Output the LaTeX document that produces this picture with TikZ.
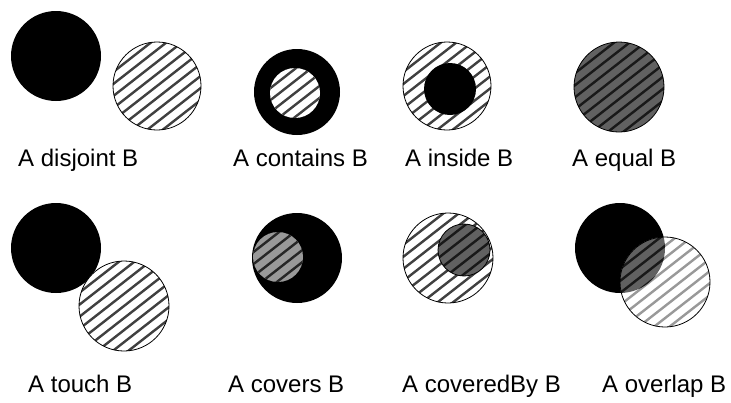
\documentclass[tikz,border=0pt]{standalone}
\usepackage{fontspec}
\setmainfont{Liberation Sans}
\usepackage{tikz}

% striped disk: centre x, centre y, radius, stripe colour
\newcommand{\hatchdisk}[4]{%
  \begin{scope}
    \clip (#1,#2) circle (#3pt);
    \foreach \k in {-57,-47.5,...,60}
      \draw[line width=2.4pt,#4,shift={(#1,#2)},rotate=38] (-60,\k) -- (60,\k);
  \end{scope}}

\begin{document}
\begin{tikzpicture}[x=1pt, y=-1pt, font=\fontsize{24}{28}\selectfont,
    rel/.style={anchor=base west, inner sep=0pt},
    solid A/.style={fill=black},
    rim/.style={draw=black, line width=0.8pt},
    dense/.style={fill=black!62},
    light/.style={fill=black!40}]
  \useasboundingbox (0,0) rectangle (731,402);
  \def\rA{45}      % radius of a full disk
  \def\rs{25}      % radius of a small disk
  % ---------------- upper row
  % disjoint
  \fill[solid A] (56,56) circle (\rA pt);
  \fill[white] (157,86) circle (44pt);
  \hatchdisk{157}{86}{44}{black!75}
  \draw[rim] (157,86) circle (44pt);
  % contains
  \fill[solid A] (297,92) circle (43pt);
  \fill[white] (295,93) circle (\rs pt);
  \hatchdisk{295}{93}{\rs}{black!75}
  % inside
  \fill[white] (447,86) circle (44pt);
  \hatchdisk{447}{86}{44}{black!75}
  \draw[rim] (447,86) circle (44pt);
  \fill[solid A] (450,89) circle (26pt);
  % equal
  \fill[dense] (619,87) circle (\rA pt);
  \hatchdisk{619}{87}{\rA}{black!90}
  \draw[rim] (619,87) circle (\rA pt);
  \node[rel] (disjoint) at (18,166) {A disjoint B};
  \node[rel] (contains) at (233,166) {A contains B};
  \node[rel] (inside) at (405,166) {A inside B};
  \node[rel] (equal) at (572,166) {A equal B};
  % ---------------- lower row
  % touch
  \fill[solid A] (56,248) circle (\rA pt);
  \fill[white] (124,306) circle (\rA pt);
  \hatchdisk{124}{306}{\rA}{black!75}
  \draw[rim] (124,306) circle (\rA pt);
  % covers
  \fill[solid A] (297,258) circle (\rA pt);
  \fill[light] (278,257) circle (\rs pt);
  \hatchdisk{278}{257}{\rs}{black!85}
  % coveredBy
  \fill[white] (448,258) circle (\rA pt);
  \hatchdisk{448}{258}{\rA}{black!75}
  \draw[rim] (448,258) circle (\rA pt);
  \fill[dense] (464,250) circle (26pt);
  \hatchdisk{464}{250}{26}{black!90}
  \draw[rim] (464,250) circle (26pt);
  % overlap
  \fill[solid A] (620,248) circle (\rA pt);
  \fill[white] (665,282) circle (\rA pt);
  \hatchdisk{665}{282}{\rA}{black!40}
  \begin{scope}
    \clip (620,248) circle (\rA pt);
    \fill[dense] (665,282) circle (\rA pt);
    \hatchdisk{665}{282}{\rA}{black!90}
  \end{scope}
  \draw[rim] (665,282) circle (\rA pt);
  \node[rel] (touch) at (28,392) {A touch B};
  \node[rel] (covers) at (228,392) {A covers B};
  \node[rel] (coveredby) at (402,392) {A coveredBy B};
  \node[rel] (overlap) at (602,392) {A overlap B};
\end{tikzpicture}
\end{document}
